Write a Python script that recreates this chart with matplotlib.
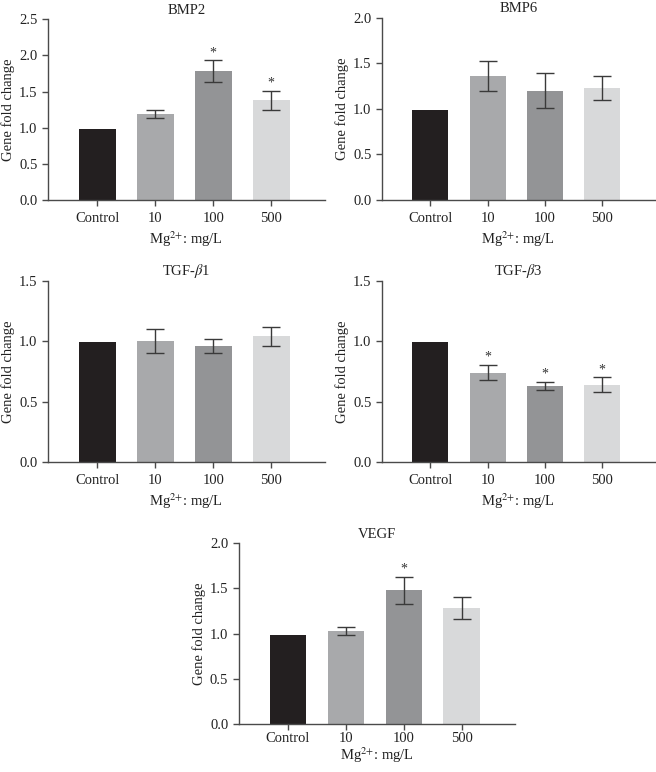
import numpy as np
import matplotlib
matplotlib.use("Agg")
import matplotlib.pyplot as plt

plt.rcParams['font.family'] = ['Liberation Serif', 'DejaVu Serif']
plt.rcParams['mathtext.fontset'] = 'stix'

groups = ['Control', '10', '100', '500']
bar_colors = ['#231f20', '#a8a9ab', '#939496', '#d8d9da']

bmp2 = [0.98, 1.19, 1.78, 1.38]
bmp2_err = [0.0, 0.05, 0.15, 0.13]
bmp2_star = [False, False, True, True]

bmp6 = [0.99, 1.36, 1.20, 1.23]
bmp6_err = [0.0, 0.16, 0.19, 0.13]
bmp6_star = [False, False, False, False]

tgfb1 = [0.99, 1.00, 0.96, 1.04]
tgfb1_err = [0.0, 0.10, 0.06, 0.08]
tgfb1_star = [False, False, False, False]

tgfb3 = [0.99, 0.74, 0.63, 0.64]
tgfb3_err = [0.0, 0.06, 0.03, 0.06]
tgfb3_star = [False, True, True, True]

vegf = [0.98, 1.03, 1.48, 1.28]
vegf_err = [0.0, 0.04, 0.15, 0.12]
vegf_star = [False, False, True, False]

# title, values, errors, significance, y max, axes rect, x-tick pad, xlabel pad
panels = [
    ('BMP2', bmp2, bmp2_err, bmp2_star, 2.5, [0.073, 0.741, 0.422, 0.234], 5, 3),
    ('BMP6', bmp6, bmp6_err, bmp6_star, 2.0, [0.582, 0.741, 0.416, 0.236], 5, 3),
    (r'TGF-$\it{\beta}$1', tgfb1, tgfb1_err, tgfb1_star, 1.5, [0.073, 0.4016, 0.422, 0.2345], 5, 3),
    (r'TGF-$\it{\beta}$3', tgfb3, tgfb3_err, tgfb3_star, 1.5, [0.582, 0.4016, 0.416, 0.2345], 5, 3),
    ('VEGF', vegf, vegf_err, vegf_star, 2.0, [0.364, 0.062, 0.421, 0.2345], 2, 0),
]

fig = plt.figure(figsize=(6.56, 7.72), dpi=100)
spine_col = '#4a4a4a'
txt_col = '#222222'

for title, vals, errs, stars, ymax, rect, xpad, lpad in panels:
    ax = fig.add_axes(rect)
    x = np.arange(len(groups))
    ax.bar(x, vals, width=0.63, color=bar_colors, zorder=2)
    ax.errorbar(x[1:], vals[1:], yerr=errs[1:], fmt='none', ecolor='#3a3a3a',
                elinewidth=1.0, capsize=6.5, capthick=1.0, zorder=3)
    for xi, v, er, s in zip(x, vals, errs, stars):
        if s:
            ax.annotate('*', (xi, v + er), xytext=(0, 1), textcoords='offset points',
                        ha='center', va='bottom', fontsize=10, color='#333333')
    ax.set_xlim(-0.85, 3.92)
    ax.set_ylim(0, ymax)
    ticks = np.arange(0, ymax + 0.01, 0.5)
    ax.set_yticks(ticks)
    ax.set_yticklabels(['%.1f' % t for t in ticks])
    ax.set_xticks(x)
    ax.set_xticklabels(groups)
    for sp in ['top', 'right']:
        ax.spines[sp].set_visible(False)
    for sp in ['left', 'bottom']:
        ax.spines[sp].set_color(spine_col)
        ax.spines[sp].set_linewidth(1.0)
    ax.tick_params(axis='both', direction='out', length=4, width=1.0,
                   color=spine_col, labelsize=10.5, labelcolor=txt_col)
    ax.tick_params(axis='x', pad=xpad)
    ax.set_ylabel('Gene fold change', fontsize=10.5, color=txt_col, labelpad=3)
    ax.set_xlabel(r'Mg$^{2{+}}$: mg/L', fontsize=10.5, color=txt_col, labelpad=lpad)
    ax.set_title(title, fontsize=10.5, color=txt_col, pad=4)

plt.savefig('out.png', dpi=100)
